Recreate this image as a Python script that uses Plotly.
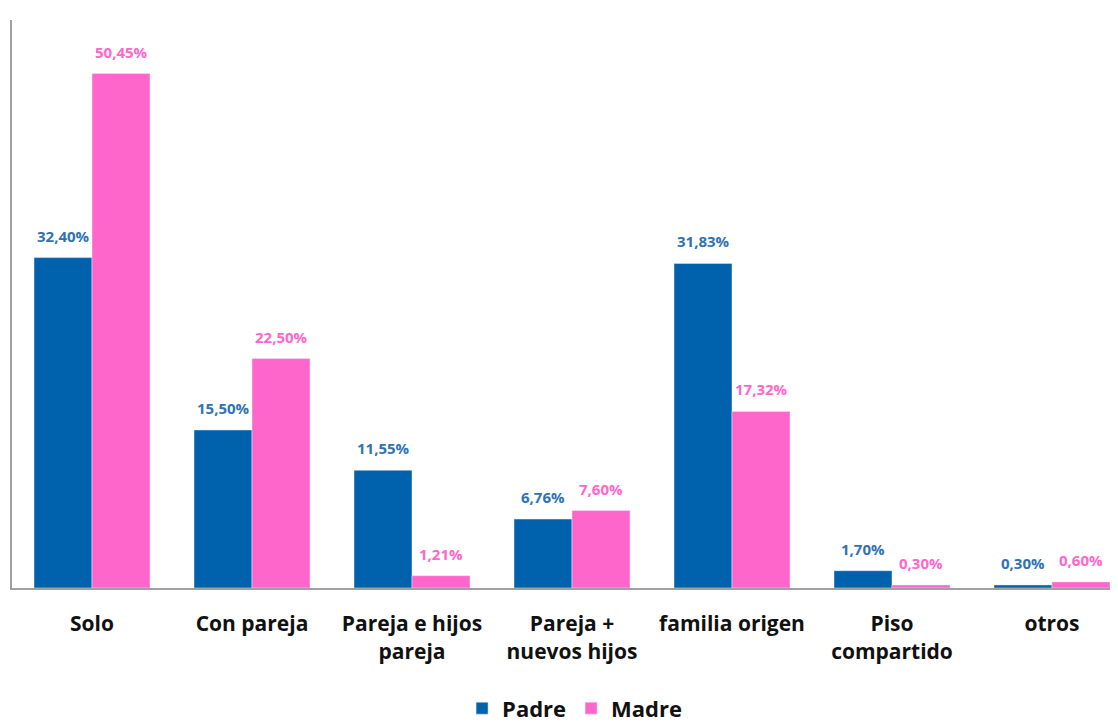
import plotly.graph_objects as go

categories = ["Solo", "Con pareja", "Pareja e hijos<br>pareja", "Pareja +<br>nuevos hijos",
              "familia origen", "Piso<br>compartido", "otros"]
padre = [32.40, 15.50, 11.55, 6.76, 31.83, 1.70, 0.30]
madre = [50.45, 22.50, 1.21, 7.60, 17.32, 0.30, 0.60]

def fmt(v):
    return f"{v:.2f}".replace(".", ",") + "%"

fig = go.Figure()
fig.add_trace(go.Bar(name="Padre", x=categories, y=padre, marker_color="#0062AC"))
fig.add_trace(go.Bar(name="Madre", x=categories, y=madre, marker_color="#FF66CC"))

for series, color, dx in [(padre, "#2F72B4", -29), (madre, "#FF66CC", 29)]:
    for c, v in zip(categories, series):
        fig.add_annotation(x=c, y=v, text=fmt(v), showarrow=False, xshift=dx,
                           yanchor="bottom", yshift=10,
                           font=dict(color=color, size=15, family="Open Sans", weight="bold"))

fig.update_layout(
    width=1118, height=722,
    barmode="group", bargap=0.275, bargroupgap=0,
    plot_bgcolor="white", paper_bgcolor="white",
    margin=dict(l=4, r=0, t=12, b=142, autoexpand=False),
    font=dict(family="Open Sans", color="#111111"),
    showlegend=True,
    legend=dict(orientation="h", x=0.505, xanchor="center", y=-0.175, yanchor="top",
                font=dict(size=22, color="#111111", weight="bold"), itemwidth=30,
                traceorder="normal"),
)
fig.update_xaxes(range=[-0.5, 6.4625], showline=True, linecolor="#A0A0A0", linewidth=2,
                 ticks="", automargin=False,
                 tickfont=dict(size=21, color="#111111", family="Open Sans", weight="bold"),
                 ticklabelstandoff=16, fixedrange=True)
fig.update_yaxes(range=[0, 55.7], showline=True, linecolor="#A0A0A0", linewidth=2,
                 showgrid=False, zeroline=False, showticklabels=False, ticks="",
                 automargin=False)
fig.write_html("out.html")
